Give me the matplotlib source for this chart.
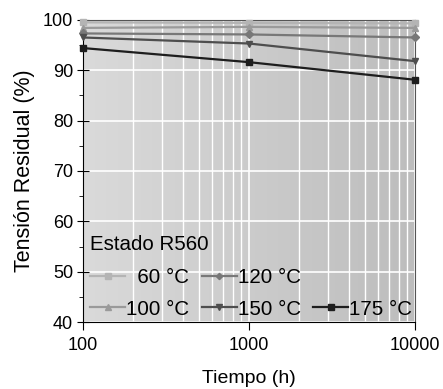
import numpy as np
import matplotlib
matplotlib.use("Agg")
import matplotlib.pyplot as plt
from matplotlib.lines import Line2D
from matplotlib.ticker import FixedLocator, NullFormatter, MultipleLocator

plt.rcParams['font.family'] = ['Liberation Sans', 'DejaVu Sans']

# data
tiempo = [100, 1000, 10000]
labels = ['\u200760 °C', '100 °C', '120 °C', '150 °C', '175 °C']
t60 = [99.5, 99.4, 99.3]
t100 = [98.4, 98.6, 98.4]
t120 = [97.3, 97.1, 96.5]
t150 = [96.5, 95.3, 91.8]
t175 = [94.4, 91.6, 88.1]
series = [t60, t100, t120, t150, t175]

colors = ['#b4b4b4', '#9a9a9a', '#787878', '#4e4e4e', '#1e1e1e']
markers = ['s', '^', 'D', 'v', 's']
msizes = [5, 5, 4, 5, 5]

fig = plt.figure(figsize=(4.43, 3.89), dpi=100)
ax = fig.add_axes([0.187, 0.172, 0.75, 0.777])

# grey gradient background
grad = np.linspace(0, 1, 256).reshape(1, -1)
ax.imshow(grad, extent=[0, 1, 0, 1], transform=ax.transAxes, aspect='auto',
          cmap=matplotlib.colors.LinearSegmentedColormap.from_list('bg', ['#dadada', '#bdbdbd']),
          zorder=0)

ax.set_xscale('log')
ax.set_xlim(100, 10000)
ax.set_ylim(40, 100)

handles = []
for ys, lab, c, m, ms in zip(series, labels, colors, markers, msizes):
    h, = ax.plot(tiempo, ys, color=c, marker=m, markersize=ms, linewidth=1.6,
                 label=lab, zorder=3, clip_on=False)
    handles.append(h)

ax.xaxis.set_major_locator(FixedLocator([100, 1000, 10000]))
ax.set_xticklabels(['100', '1000', '10000'])
ax.xaxis.set_minor_formatter(NullFormatter())
ax.yaxis.set_major_locator(MultipleLocator(10))
ax.yaxis.set_minor_locator(MultipleLocator(5))

ax.grid(True, which='major', color='white', linewidth=1.2, zorder=1)
ax.grid(True, which='minor', axis='x', color='white', linewidth=1.0, zorder=1)
ax.set_axisbelow(True)

ax.tick_params(axis='both', which='major', labelsize=13, color='black')
ax.tick_params(axis='x', which='major', direction='out', length=6, pad=5)
ax.tick_params(axis='y', which='major', direction='inout', length=8, pad=3)
ax.tick_params(axis='y', which='minor', direction='out', length=3)
ax.tick_params(axis='x', which='minor', length=0)

for s in ['top', 'right']:
    ax.spines[s].set_color('#555555')
for s in ['left', 'bottom']:
    ax.spines[s].set_color('black')

ax.set_xlabel('Tiempo (h)', fontsize=14, labelpad=11)
ax.set_ylabel('Tensión Residual (%)', fontsize=15.5, labelpad=6)

# empty slot so that 175 °C sits in the bottom row of the third column
blank = Line2D([], [], color='none')
leg_handles = handles[:4] + [blank, handles[4]]
leg_labels = labels[:4] + ['', labels[4]]
leg = ax.legend(leg_handles, leg_labels, ncol=3, loc='lower left', frameon=False,
                title='Estado R560', fontsize=14.8, title_fontsize=14.8,
                handlelength=1.7, handletextpad=0.05, columnspacing=0.6,
                labelspacing=0.6, borderaxespad=0.0, borderpad=0.2,
                bbox_to_anchor=(0.01, -0.002), markerscale=0.8)
leg._legend_box.align = 'left'
leg._legend_box.sep = 10

fig.savefig('out.png', dpi=100)
